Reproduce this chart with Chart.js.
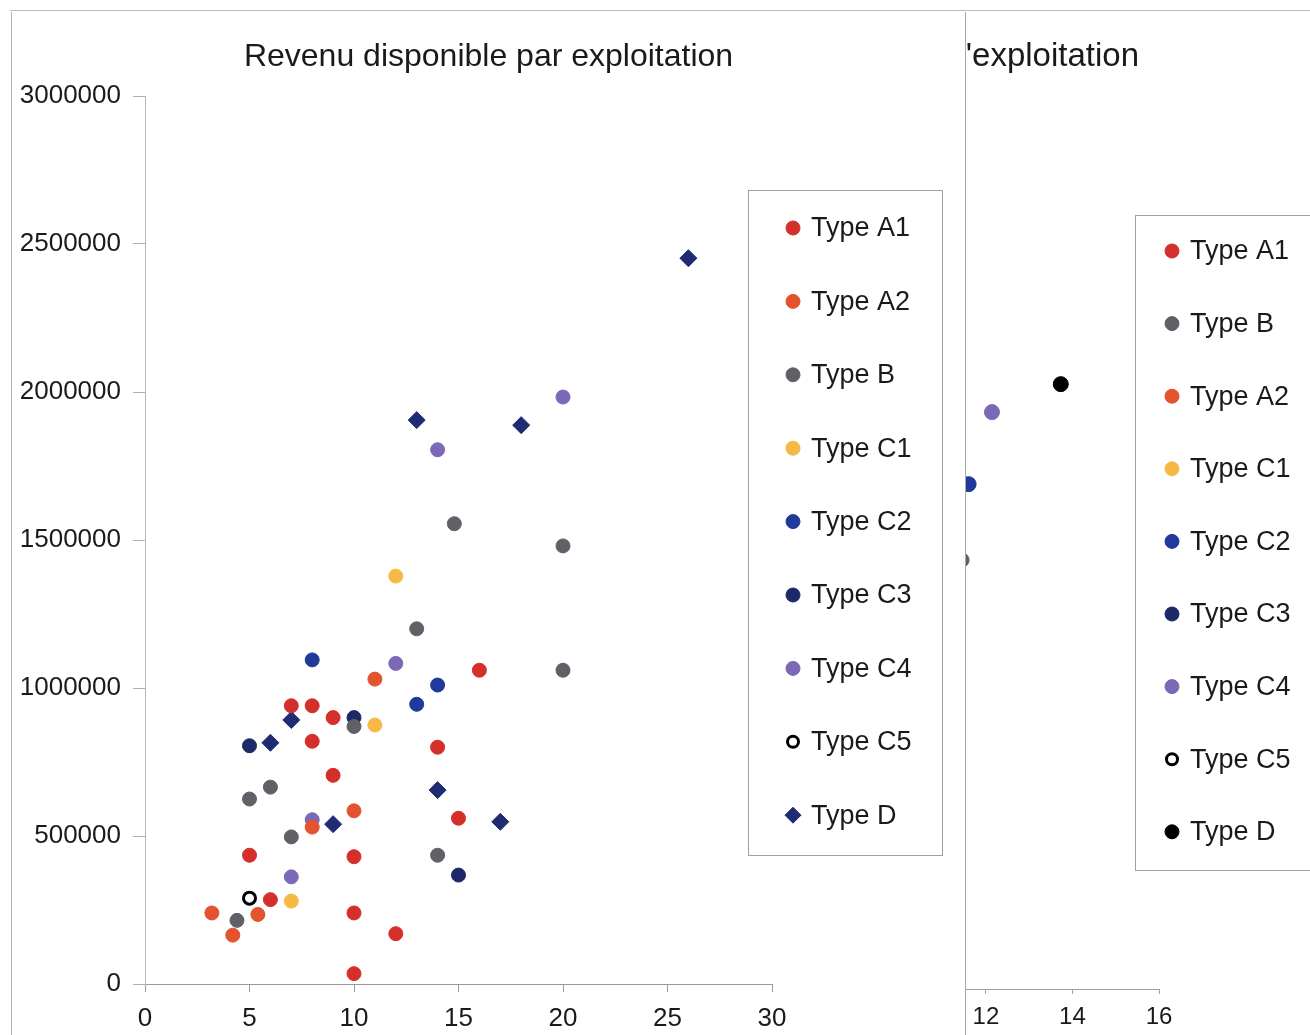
<!DOCTYPE html>
<html>
<head>
<meta charset="utf-8">
<script src="https://cdn.jsdelivr.net/npm/chart.js@4.4.0/dist/chart.umd.min.js"></script>
<style>
  html, body { margin: 0; padding: 0; background: #fff; }
  body { width: 1310px; height: 1035px; position: relative; overflow: hidden; }
  #back { position: absolute; left: 0; top: 0; }
  #frameTop { position: absolute; left: 10px; top: 10px; width: 1300px; border-top: 1px solid #b8b8b8; }
  #front { position: absolute; left: 11px; top: 12px; width: 955px; height: 1023px; box-sizing: border-box;
           background: #fff; border-left: 1px solid #b4b4b4; border-right: 1px solid #a8a8a8; }
  #front canvas { display: block; }
</style>
</head>
<body>
<canvas id="back" width="1310" height="1035"></canvas>
<div id="frameTop"></div>
<div id="front"><canvas id="revenu" width="953" height="1023"></canvas></div>

<script>
// Revenu disponible par exploitation : [x, revenu] pour chaque type
const typeA1 = [[7, 940000], [8, 940000], [9, 900000], [8, 820000], [14, 800000], [9, 705000], [15, 560000],
                [5, 435000], [10, 430000], [6, 285000], [10, 240000], [12, 170000], [10, 35000], [16, 1060000]];
const typeA2 = [[11, 1030000], [10, 585000], [8, 530000], [3.2, 240000], [5.4, 235000], [4.2, 165000]];
const typeB  = [[14.8, 1555000], [20, 1480000], [13, 1200000], [20, 1060000], [10, 870000], [6, 665000],
                [5, 625000], [7, 497000], [14, 435000], [4.4, 215000]];
const typeC1 = [[12, 1378000], [11, 875000], [7, 280000]];
const typeC2 = [[8, 1095000], [14, 1010000], [13, 945000]];
const typeC3 = [[10, 900000], [5, 805000], [15, 368000]];
const typeC4 = [[20, 1983000], [14, 1805000], [12, 1083000], [8, 555000], [7, 362000]];
const typeC5 = [[5, 290000]];
const typeD  = [[26, 2452000], [13, 1905000], [18, 1888000], [7, 892000], [6, 815000], [14, 655000],
                [17, 548000], [9, 540000]];

// second graphique (partiellement visible)
const actifB  = [[11.45, 1441000]];
const actifC2 = [[11.6, 1696000]];
const actifC4 = [[12.14, 1938000]];
const actifD  = [[13.73, 2032000]];

const xTicksRevenu = [0, 5, 10, 15, 20, 25, 30];
const yTicksRevenu = [0, 500000, 1000000, 1500000, 2000000, 2500000, 3000000];
const xTicksActif = [12, 14, 16];

const FONT = '"Liberation Sans", Arial, Helvetica, sans-serif';
const INK = '#1a1a1a';
Chart.defaults.font.family = FONT;
Chart.defaults.color = INK;

const STYLES = {
  A1: { bg: '#d42f2a', shape: 'circle' },
  A2: { bg: '#e2532e', shape: 'circle' },
  B:  { bg: '#606167', shape: 'circle' },
  C1: { bg: '#f6b945', shape: 'circle' },
  C2: { bg: '#21399b', shape: 'circle' },
  C3: { bg: '#1c2867', shape: 'circle' },
  C4: { bg: '#7b68b6', shape: 'circle' },
  C5: { bg: '#ffffff', border: '#000000', width: 3, shape: 'circle', r: 6 },
  D:  { bg: '#1f2b73', shape: 'rectRot', r: 8.5 }
};

function series(label, key, data, override) {
  const s = Object.assign({}, STYLES[key], override || {});
  return {
    label: label,
    data: data.map(p => ({ x: p[0], y: p[1] })),
    pointStyle: s.shape,
    pointRadius: s.r || 7,
    borderWidth: s.width || 1,
    backgroundColor: s.bg,
    borderColor: s.border || s.bg,
    showLine: false,
    clip: false
  };
}

function drawMarker(ctx, ds, x, y, r) {
  ctx.beginPath();
  if (ds.pointStyle === 'rectRot') {
    ctx.moveTo(x, y - r);
    ctx.lineTo(x + r, y);
    ctx.lineTo(x, y + r);
    ctx.lineTo(x - r, y);
    ctx.closePath();
  } else {
    ctx.arc(x, y, ds.borderColor !== ds.backgroundColor ? r - 1.5 : r, 0, Math.PI * 2);
  }
  ctx.fillStyle = ds.backgroundColor;
  ctx.fill();
  ctx.lineWidth = ds.borderWidth;
  ctx.strokeStyle = ds.borderColor;
  ctx.stroke();
}

// legend drawn inside a framed box
const boxLegend = {
  id: 'boxLegend',
  afterDraw(chart, args, o) {
    const ctx = chart.ctx;
    ctx.save();
    ctx.fillStyle = '#fff';
    ctx.fillRect(o.x, o.y, o.w, o.h);
    ctx.strokeStyle = '#a0a0a0';
    ctx.lineWidth = 1;
    ctx.strokeRect(o.x + 0.5, o.y + 0.5, o.w, o.h);
    ctx.font = o.fontSize + 'px ' + FONT;
    ctx.textAlign = 'left';
    ctx.textBaseline = 'middle';
    chart.data.datasets.forEach((ds, i) => {
      const y = o.firstY + i * o.step;
      drawMarker(ctx, ds, o.markerX, y, ds.pointStyle === 'rectRot' ? 8 : 7);
      ctx.fillStyle = INK;
      ctx.fillText(ds.label, o.textX, y + 1);
    });
    ctx.restore();
  }
};

// chart title placed at a fixed anchor
const fixedTitle = {
  id: 'fixedTitle',
  afterDraw(chart, args, o) {
    const ctx = chart.ctx;
    ctx.save();
    ctx.font = o.size + 'px ' + FONT;
    ctx.fillStyle = INK;
    ctx.textAlign = o.align;
    ctx.textBaseline = 'middle';
    ctx.fillText(o.text, o.x, o.y);
    ctx.restore();
  }
};

function keepTicks(values) {
  return scale => { scale.ticks = values.map(v => ({ value: v })); };
}

new Chart(document.getElementById('revenu'), {
  type: 'scatter',
  data: {
    datasets: [
      series('Type A1', 'A1', typeA1),
      series('Type A2', 'A2', typeA2),
      series('Type B', 'B', typeB),
      series('Type C1', 'C1', typeC1),
      series('Type C2', 'C2', typeC2),
      series('Type C3', 'C3', typeC3),
      series('Type C4', 'C4', typeC4),
      series('Type C5', 'C5', typeC5),
      series('Type D', 'D', typeD)
    ]
  },
  options: {
    responsive: false,
    animation: false,
    events: [],
    layout: { padding: { left: 0, right: 193, top: 84, bottom: 0 } },
    plugins: {
      legend: { display: false },
      tooltip: { enabled: false },
      fixedTitle: { text: 'Revenu disponible par exploitation', size: 32, align: 'center', x: 476.5, y: 45 },
      boxLegend: { x: 736, y: 178, w: 194, h: 665, markerX: 781, textX: 799, firstY: 216, step: 73.4, fontSize: 27 }
    },
    scales: {
      x: {
        type: 'linear', min: 0, max: 30,
        afterBuildTicks: keepTicks(xTicksRevenu),
        afterFit: s => { s.height = 51; },
        ticks: { font: { size: 26 }, color: INK, padding: 11, maxRotation: 0 },
        grid: { drawOnChartArea: false, tickLength: 8, color: '#9a9a9a' },
        border: { color: '#9a9a9a' }
      },
      y: {
        min: 0, max: 3000000,
        afterBuildTicks: keepTicks(yTicksRevenu),
        afterFit: s => { s.width = 133; },
        ticks: { font: { size: 26 }, color: INK, padding: 12, callback: v => String(v) },
        grid: { drawOnChartArea: false, tickLength: 12, color: '#b0b0b0' },
        border: { color: '#b8b8b8' }
      }
    }
  },
  plugins: [fixedTitle, boxLegend]
});

new Chart(document.getElementById('back'), {
  type: 'scatter',
  data: {
    datasets: [
      series('Type A1', 'A1', []),
      series('Type B', 'B', actifB),
      series('Type A2', 'A2', []),
      series('Type C1', 'C1', []),
      series('Type C2', 'C2', actifC2, { r: 7.5 }),
      series('Type C3', 'C3', []),
      series('Type C4', 'C4', actifC4, { r: 7.5 }),
      series('Type C5', 'C5', []),
      series('Type D', 'D', actifD, { bg: '#000000', shape: 'circle', r: 7.5 })
    ]
  },
  options: {
    responsive: false,
    animation: false,
    events: [],
    layout: { padding: { left: 966, right: 151, top: 96, bottom: 0 } },
    plugins: {
      legend: { display: false },
      tooltip: { enabled: false },
      fixedTitle: { text: "Revenu disponible par actif de l'exploitation", size: 33, align: 'right', x: 1139, y: 57 },
      boxLegend: { x: 1135, y: 215, w: 200, h: 655, markerX: 1172, textX: 1190, firstY: 251, step: 72.6, fontSize: 27 }
    },
    scales: {
      x: {
        type: 'linear', min: 11.54, max: 16,
        afterBuildTicks: keepTicks(xTicksActif),
        afterFit: s => { s.height = 46; },
        ticks: { font: { size: 24 }, color: INK, padding: 9, maxRotation: 0 },
        grid: { drawOnChartArea: false, tickLength: 5, color: '#a0a0a0' },
        border: { color: '#a0a0a0' }
      },
      y: { display: false, min: 0, max: 3000000 }
    }
  },
  plugins: [fixedTitle, boxLegend]
});
</script>
</body>
</html>
